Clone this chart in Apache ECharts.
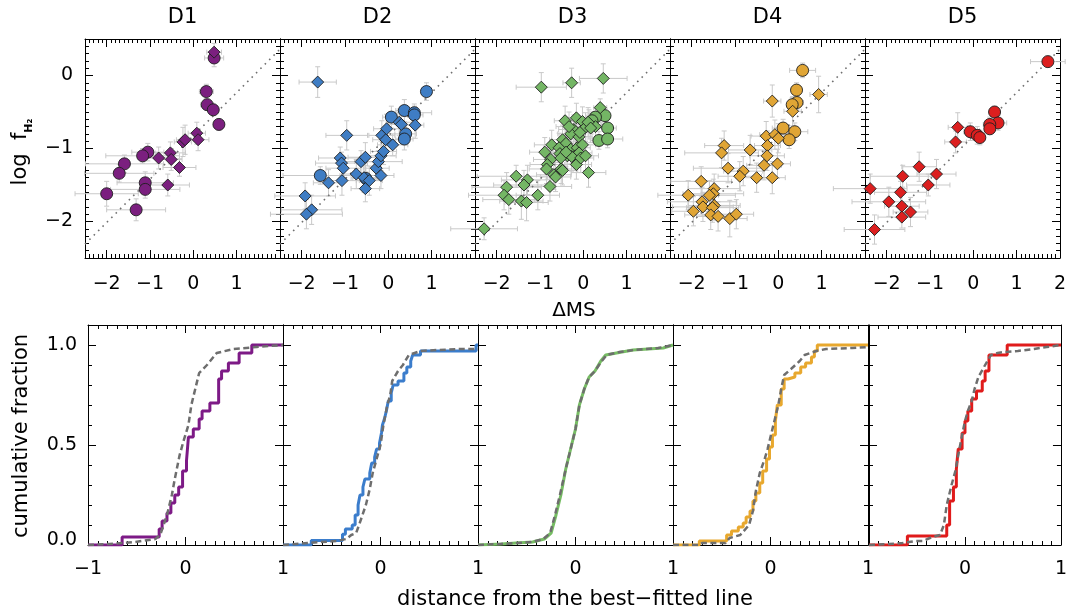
<!DOCTYPE html>
<html><head><meta charset="utf-8">
<script src="https://cdn.jsdelivr.net/npm/echarts@6/dist/echarts.min.js"></script>
<style>html,body{margin:0;padding:0;background:#fff}#c{width:1070px;height:615px}</style>
</head><body><div id="c"></div>
<script>
// ---------------- data ----------------
const panelNames = ['D1','D2','D3','D4','D5'];
const markColors = ['#7b1f7f','#3f7dc4','#74b665','#e0a535','#dc1f1f'];
const lineColors = ['#7d1a86','#3b7dcc','#76bd63','#e8a82e','#e01b1b'];

// best-fit line endpoints
const fitX = [-2.5, 2.0];
const fitY = [-2.31, 0.36];

// D1
const d1X  = [0.48,0.30,0.32,0.46,0.59,-1.05,-1.17,-1.59,-1.71,-1.11,-1.11,-2.00,-1.32, 0.48,-0.24,-0.19,0.08,0.11,-0.80,-0.53,-0.51,-0.32,-0.59];
const d1Y  = [0.24,-0.22,-0.40,-0.47,-0.67,-1.05,-1.10,-1.21,-1.34,-1.47,-1.56,-1.62,-1.84, 0.32,-0.91,-0.88,-0.79,-0.88,-1.13,-1.06,-1.15,-1.26,-1.50];
const d1Xe = [0.22,0.16,0.15,0.10,0.12,0.37,0.85,0.90,0.80,0.65,0.80,0.73,0.68, 0.17,0.20,0.20,0.20,0.25,0.30,0.35,0.25,0.38,0.50];
const d1Ye = [0.12,0.10,0.08,0.08,0.08,0.12,0.10,0.12,0.12,0.15,0.12,0.17,0.15, 0.12,0.20,0.20,0.15,0.15,0.15,0.15,0.15,0.12,0.15];
const d1S  = ['c','c','c','c','c','c','c','c','c','c','c','c','c','d','d','d','d','d','d','d','d','d','d'];

// D2
const d2X  = [-1.63,-0.96,-1.11,-1.08,-1.04,-1.38,-1.07,-1.92,-1.77,-1.89,-0.74,-0.63,-0.53,-0.56,-0.44,-0.53,-0.28,-0.23,-0.17,-0.11,-0.17,-0.15,-0.06,-0.04,0.10,0.25,0.30,0.62, 0.88,0.37,0.07,0.60,0.60,0.40,0.37,-1.57,-0.52];
const d2Y  = [-0.09,-0.82,-1.13,-1.20,-1.27,-1.47,-1.44,-1.65,-1.84,-1.90,-1.35,-1.18,-1.12,-1.40,-1.44,-1.55,-1.27,-1.18,-1.10,-1.04,-1.37,-0.82,-0.88,-0.73,-0.95,-0.64,-0.67,-0.68, -0.22,-0.48,-0.57,-0.51,-0.54,-0.80,-0.87,-1.37,-1.41];
const d2Xe = [0.43,0.48,0.50,0.60,0.40,0.35,0.40,0.70,0.70,0.83,0.30,0.45,0.40,0.30,0.30,0.33,0.30,0.55,0.35,0.30,0.30,0.30,0.30,0.30,0.35,0.30,0.30,0.20, 0.12,0.20,0.20,0.40,0.20,0.25,0.20,0.86,0.30];
const d2Ye = [0.21,0.20,0.15,0.15,0.13,0.18,0.20,0.18,0.20,0.20,0.20,0.15,0.20,0.20,0.20,0.18,0.15,0.15,0.20,0.18,0.18,0.20,0.15,0.20,0.15,0.18,0.20,0.18, 0.12,0.15,0.15,0.12,0.12,0.15,0.15,0.12,0.18];
const d2S  = ['d','d','d','d','d','d','d','d','d','d','d','d','d','d','d','d','d','d','d','d','d','d','d','d','d','d','d','d','c','c','c','c','c','c','c','c','c'];

// D3
const d3X  = [-0.97,-0.27,0.46,0.39,0.50,0.28,0.56,0.36,0.56,-0.42,-0.16,-0.02,0.13,0.05,0.28,-0.22,-0.29,-0.10,-0.48,-0.40,-0.73,-0.56,-0.29,-0.14,-0.02,-0.89,-0.54,-0.37,-0.18,-0.10,-0.75,-0.83,-0.85,-0.52,-0.16,-0.68,-0.64,-0.51,-0.48,0.12,-1.55,-1.29,-1.37,-0.77,-1.77,-1.83,-1.72,-1.43,-1.31,-1.05,-2.29,0.11,0.17,-0.08,-0.27,-0.06,0.05,-0.40,0.20,-0.33];
const d3Y  = [-0.16,-0.10,-0.04,-0.44,-0.55,-0.57,-0.72,-0.89,-0.87,-0.62,-0.58,-0.63,-0.67,-0.71,-0.70,-0.74,-0.80,-0.84,-0.88,-0.93,-0.95,-0.99,-1.01,-0.99,-0.95,-1.05,-1.07,-1.10,-1.10,-1.06,-1.15,-1.22,-1.28,-1.13,-1.22,-1.36,-1.39,-1.28,-1.30,-1.33,-1.38,-1.43,-1.50,-1.52,-1.53,-1.64,-1.70,-1.72,-1.74,-1.64,-2.10,-0.64,-0.72,-0.78,-1.11,-1.13,-1.10,-1.05,-0.62,-0.70];
const d3Xe = [0.58,0.20,0.55,0.15,0.10,0.20,0.20,0.20,0.35,0.25,0.30,0.30,0.30,0.30,0.25,0.35,0.30,0.30,0.30,0.30,0.40,0.35,0.30,0.30,0.30,0.35,0.35,0.30,0.30,0.30,0.40,0.40,0.40,0.35,0.35,0.40,0.35,0.35,0.35,0.40,0.90,0.60,0.70,0.50,0.80,0.82,0.60,0.50,0.50,0.50,0.77,0.30,0.30,0.30,0.30,0.30,0.30,0.30,0.20,0.30];
const d3Ye = [0.20,0.20,0.20,0.12,0.10,0.12,0.12,0.12,0.12,0.20,0.20,0.20,0.20,0.20,0.20,0.20,0.20,0.20,0.20,0.20,0.20,0.20,0.20,0.20,0.20,0.20,0.20,0.20,0.20,0.20,0.20,0.20,0.20,0.20,0.20,0.20,0.20,0.20,0.20,0.20,0.15,0.20,0.20,0.20,0.20,0.20,0.20,0.25,0.25,0.20,0.15,0.20,0.20,0.20,0.20,0.20,0.20,0.20,0.12,0.20];
const d3S  = ['d','d','d','d','c','c','c','c','c','d','d','d','d','d','d','d','d','d','d','d','d','d','d','d','d','d','d','d','d','d','d','d','d','d','d','d','d','d','d','d','d','d','d','d','d','d','d','d','d','d','d','d','d','d','d','d','d','d','c','d'];

// D4
const d4X  = [0.56,0.42,0.43,0.32,0.11,0.38,0.25,0.93,-0.14,0.33,-0.28,-0.08,0.00,-0.25,-1.25,-1.31,-0.65,-0.26,-1.16,-0.33,-0.02,-0.81,-0.89,-0.50,-0.14,-1.78,-1.48,-1.50,-1.59,-2.08,-1.76,-1.74,-1.48,-1.52,-1.96,-1.56,-1.39,-1.12,-0.97];
const d4Y  = [0.07,-0.20,-0.37,-0.40,-0.72,-0.77,-0.88,-0.26,-0.35,-0.49,-0.83,-0.81,-0.86,-0.96,-0.96,-1.06,-1.02,-1.10,-1.27,-1.23,-1.21,-1.31,-1.38,-1.40,-1.40,-1.45,-1.55,-1.62,-1.64,-1.64,-1.73,-1.80,-1.78,-1.81,-1.86,-1.91,-1.93,-1.96,-1.90];
const d4Xe = [0.30,0.12,0.15,0.12,0.25,0.30,0.15,0.20,0.20,0.20,0.35,0.35,0.30,0.30,0.45,0.85,0.50,0.40,0.80,0.40,0.30,0.45,0.50,0.40,0.30,0.70,0.60,0.70,0.60,0.70,0.80,0.70,0.60,0.60,0.50,0.60,0.50,0.40,0.40];
const d4Ye = [0.10,0.10,0.10,0.10,0.12,0.12,0.12,0.25,0.22,0.20,0.20,0.20,0.20,0.20,0.20,0.20,0.20,0.20,0.20,0.20,0.20,0.20,0.20,0.20,0.22,0.20,0.20,0.20,0.20,0.20,0.20,0.20,0.20,0.20,0.20,0.20,0.20,0.25,0.20];
const d4S  = ['c','c','c','c','c','c','c','d','d','d','d','d','d','d','d','d','d','d','d','d','d','d','d','d','d','d','d','d','d','d','d','d','d','d','d','d','d','d','d'];

// D5
const d5X  = [1.72,0.49,0.57,0.38,0.38,-0.07,0.09,0.15,-0.36,-0.41,-1.25,-0.85,-1.63,-1.04,-2.38,-1.68,-1.95,-1.65,-1.45,-1.65,-2.28];
const d5Y  = [0.19,-0.50,-0.65,-0.67,-0.73,-0.77,-0.82,-0.85,-0.71,-0.91,-1.25,-1.35,-1.38,-1.50,-1.55,-1.60,-1.73,-1.79,-1.87,-1.94,-2.11];
const d5Xe = [0.40,0.12,0.20,0.15,0.12,0.15,0.15,0.12,0.22,0.25,0.40,0.45,0.75,0.50,0.85,0.60,0.85,0.40,0.40,0.55,0.70];
const d5Ye = [0.08,0.08,0.10,0.10,0.08,0.12,0.12,0.10,0.20,0.15,0.20,0.20,0.15,0.15,0.20,0.15,0.20,0.15,0.20,0.15,0.20];
const d5S  = ['c','c','c','c','c','c','c','c','d','d','d','d','d','d','d','d','d','d','d','d','d'];

// cumulative distributions: observed (coloured step) and comparison (grey dashed)
const obs1X = [-1,-0.65,-0.27,-0.24,-0.19,-0.15,-0.11,-0.07,-0.03,0.01,0.03,0.08,0.14,0.17,0.25,0.34,0.37,0.44,0.55,0.68,1.0];
const obs1Y = [0,0.04,0.08,0.12,0.16,0.21,0.25,0.29,0.37,0.42,0.54,0.58,0.63,0.67,0.71,0.83,0.87,0.91,0.96,1.0,1.0];
const mod1X = [-1,-0.78,-0.52,-0.31,-0.26,-0.19,-0.14,-0.11,-0.06,-0.02,0.03,0.06,0.10,0.14,0.22,0.32,0.49,0.73,1.0];
const mod1Y = [0,0.005,0.015,0.03,0.05,0.15,0.25,0.33,0.45,0.52,0.60,0.70,0.78,0.86,0.90,0.96,0.98,0.99,1.0];

const obs2X = [-1,-0.71,-0.39,-0.36,-0.29,-0.26,-0.23,-0.21,-0.18,-0.16,-0.11,-0.09,-0.06,-0.04,-0.01,0.01,0.02,0.04,0.06,0.08,0.11,0.13,0.18,0.24,0.27,0.31,0.33,0.41,0.98,1.0];
const obs2Y = [0,0.023,0.054,0.08,0.10,0.15,0.20,0.25,0.29,0.33,0.36,0.41,0.44,0.48,0.51,0.56,0.60,0.63,0.67,0.72,0.76,0.80,0.82,0.86,0.89,0.92,0.95,0.97,1.0,1.0];
const mod2X = [-1,-0.75,-0.45,-0.35,-0.30,-0.25,-0.22,-0.15,-0.11,-0.08,-0.04,0.0,0.03,0.07,0.10,0.12,0.18,0.23,0.29,0.41,0.58,0.82,1.0];
const mod2Y = [0,0.01,0.02,0.03,0.05,0.06,0.10,0.20,0.28,0.36,0.43,0.50,0.60,0.70,0.75,0.82,0.87,0.90,0.95,0.97,0.975,0.98,0.98];

const obs3X = [-1,-0.76,-0.61,-0.44,-0.32,-0.25,-0.20,-0.15,-0.10,-0.04,0.0,0.04,0.09,0.14,0.20,0.26,0.31,0.42,0.59,0.90,1.0];
const obs3Y = [0,0.005,0.01,0.015,0.03,0.06,0.15,0.25,0.38,0.50,0.58,0.70,0.78,0.84,0.87,0.92,0.95,0.96,0.975,0.985,1.0];
const mod3X = [-1,-0.80,-0.60,-0.45,-0.33,-0.26,-0.21,-0.16,-0.10,-0.04,0.0,0.04,0.09,0.14,0.20,0.27,0.32,0.45,0.60,0.85,1.0];
const mod3Y = [0,0.004,0.01,0.015,0.03,0.06,0.15,0.25,0.38,0.50,0.58,0.70,0.78,0.84,0.87,0.92,0.95,0.965,0.975,0.985,1.0];

const obs4X = [-1,-0.73,-0.45,-0.40,-0.33,-0.28,-0.25,-0.21,-0.18,-0.15,-0.11,-0.08,-0.04,-0.01,0.02,0.05,0.07,0.11,0.14,0.18,0.25,0.31,0.36,0.42,0.45,0.48,1.0];
const obs4Y = [0,0.02,0.05,0.07,0.09,0.11,0.14,0.17,0.22,0.26,0.31,0.37,0.43,0.49,0.55,0.62,0.70,0.78,0.83,0.84,0.86,0.89,0.91,0.94,0.97,1.0,1.0];
const mod4X = [-1,-0.73,-0.70,-0.46,-0.42,-0.31,-0.22,-0.18,-0.15,-0.11,-0.06,-0.03,0.01,0.04,0.08,0.11,0.14,0.21,0.30,0.35,0.47,0.57,0.84,1.0];
const mod4Y = [0,0.0,0.01,0.01,0.035,0.05,0.10,0.17,0.27,0.36,0.43,0.48,0.56,0.62,0.70,0.78,0.85,0.88,0.92,0.95,0.97,0.98,0.985,0.99];

const obs5X = [-1,-0.60,-0.19,-0.16,-0.12,-0.09,-0.07,-0.03,0.0,0.03,0.07,0.12,0.18,0.21,0.25,0.44,1.0];
const obs5Y = [0,0.045,0.10,0.22,0.29,0.38,0.48,0.56,0.62,0.67,0.73,0.77,0.82,0.87,0.95,1.0,1.0];
const mod5X = [-1,-0.79,-0.65,-0.51,-0.44,-0.34,-0.26,-0.22,-0.19,-0.14,-0.10,-0.07,-0.03,0.0,0.03,0.07,0.10,0.14,0.21,0.27,0.34,0.41,0.55,0.72,0.85,1.0];
const mod5Y = [0,0.005,0.01,0.02,0.02,0.04,0.05,0.10,0.20,0.30,0.37,0.45,0.55,0.62,0.67,0.72,0.78,0.84,0.90,0.95,0.96,0.965,0.97,0.98,0.99,1.0];

// tick labels
const topXLabels = [[-2,-1,0,1],[-2,-1,0,1],[-2,-1,0,1],[-2,-1,0,1],[-2,-1,0,1,2]];
const topYLabels = [-2,-1,0];
const botXLabels = [[-1,0,1],[0,1],[0,1],[0,1],[0,1]];
const botYLabels = [0,0.5,1.0];

// ---------------- build ----------------
const scat = [[d1X,d1Y,d1Xe,d1Ye,d1S],[d2X,d2Y,d2Xe,d2Ye,d2S],[d3X,d3Y,d3Xe,d3Ye,d3S],[d4X,d4Y,d4Xe,d4Ye,d4S],[d5X,d5Y,d5Xe,d5Ye,d5S]];
const cdfs = [[obs1X,obs1Y,mod1X,mod1Y],[obs2X,obs2Y,mod2X,mod2Y],[obs3X,obs3Y,mod3X,mod3Y],[obs4X,obs4Y,mod4X,mod4Y],[obs5X,obs5Y,mod5X,mod5Y]];
const stepObs = ['end','end',false,'end','end'];

const FONT = 'DejaVu Sans';
const topLeft = [85,280,475,670,865];
const botLeft = [88,283,478,673,869];
const PW = 195;

function steps(a, b, s) { const r = []; const n = Math.round((b - a) / s); for (let i = 0; i <= n; i++) r.push(+(a + i * s).toFixed(3)); return r; }
const minusFmt = v => (v < 0 ? '\u2212' : '') + Math.abs(v);
const fracFmt = v => v === 0 ? '{z|0.0}' : v.toFixed(1);

const option = { animation: false, backgroundColor: '#fff', grid: [], xAxis: [], yAxis: [], series: [], graphic: [] };

function axisDef(gi, pos, range, ticks, len, showLine, labels, fmt, margin) {
  return {
    type: 'value', gridIndex: gi, position: pos, min: range[0], max: range[1],
    splitLine: { show: false }, axisPointer: { show: false }, silent: true,
    axisLine: { show: showLine, onZero: false, lineStyle: { color: '#000', width: 1 } },
    axisTick: { show: true, inside: true, length: len, customValues: ticks, lineStyle: { color: '#000', width: 1 } },
    axisLabel: (labels && labels.length) ? {
      show: true, customValues: labels, formatter: fmt, margin: margin, color: '#000',
      fontFamily: FONT, fontSize: 19,
      rich: { z: { fontFamily: FONT, fontSize: 19, color: '#000', padding: [0, 0, 10, 0] } }
    } : { show: false }
  };
}

function addPanel(left, top, h, xr, yr, xMaj, xMin, yMaj, yMin, xLab, yLab, xFmt, yFmt, xMargin, yMargin) {
  const gi = option.grid.length;
  option.grid.push({ left: left, top: top, width: PW, height: h });
  const xi = option.xAxis.length, yi = option.yAxis.length;
  option.xAxis.push(axisDef(gi, 'bottom', xr, xMaj, 8, true, xLab, xFmt, xMargin));
  option.xAxis.push(axisDef(gi, 'bottom', xr, xMin, 4, false));
  option.xAxis.push(axisDef(gi, 'top', xr, xMaj, 8, true));
  option.xAxis.push(axisDef(gi, 'top', xr, xMin, 4, false));
  option.yAxis.push(axisDef(gi, 'left', yr, yMaj, 8, true, yLab, yFmt, yMargin));
  option.yAxis.push(axisDef(gi, 'left', yr, yMin, 4, false));
  option.yAxis.push(axisDef(gi, 'right', yr, yMaj, 8, true));
  option.yAxis.push(axisDef(gi, 'right', yr, yMin, 4, false));
  return { xi, yi };
}

function renderErr(params, api) {
  const x = api.value(0), y = api.value(1), xe = api.value(2), ye = api.value(3);
  const a = api.coord([x - xe, y]), b = api.coord([x + xe, y]);
  const c = api.coord([x, y - ye]), d = api.coord([x, y + ye]);
  const k = 2.5;
  const st = { stroke: '#c9c9c9', lineWidth: 1 };
  const L = (x1, y1, x2, y2) => ({ type: 'line', shape: { x1, y1, x2, y2 }, style: st });
  return { type: 'group', children: [
    L(a[0], a[1], b[0], b[1]), L(a[0], a[1] - k, a[0], a[1] + k), L(b[0], b[1] - k, b[0], b[1] + k),
    L(c[0], c[1], d[0], d[1]), L(c[0] - k, c[1], c[0] + k, c[1]), L(d[0] - k, d[1], d[0] + k, d[1])
  ] };
}

const topXMin = steps(-2.5, 2.0, 0.1), topYMin = steps(-2.5, 0.5, 0.1);
const botXMin = steps(-1, 1, 0.1), botYMin = steps(0, 1.1, 0.1);

for (let p = 0; p < 5; p++) {
  // top panel
  const t = addPanel(topLeft[p], 39, 219, [-2.5, 2.0], [-2.5, 0.5],
    [-2, -1, 0, 1, 2], topXMin, [-2, -1, 0], topYMin,
    topXLabels[p], p === 0 ? topYLabels : [], minusFmt, minusFmt, 17, 12);
  const [X, Y, XE, YE, S] = scat[p];
  option.series.push({
    type: 'custom', xAxisIndex: t.xi, yAxisIndex: t.yi, renderItem: renderErr, clip: false, silent: true, z: 1,
    encode: { x: 0, y: 1 },
    data: X.map((v, i) => [v, Y[i], XE[i], YE[i]])
  });
  option.series.push({
    type: 'line', xAxisIndex: t.xi, yAxisIndex: t.yi, symbol: 'none', silent: true, z: 2,
    lineStyle: { color: '#707070', width: 1.6, type: [1.6, 4.6] },
    data: fitX.map((v, i) => [v, fitY[i]])
  });
  ['c', 'd'].forEach(kind => {
    option.series.push({
      type: 'scatter', xAxisIndex: t.xi, yAxisIndex: t.yi, silent: true, z: 3,
      symbol: kind === 'c' ? 'circle' : 'diamond', symbolSize: kind === 'c' ? 12 : 12,
      itemStyle: { color: markColors[p], borderColor: '#1e1e1e', borderWidth: 0.9, opacity: 1 },
      data: X.map((v, i) => [v, Y[i], S[i]]).filter(r => r[2] === kind).map(r => [r[0], r[1]])
    });
  });

  // bottom panel
  const b = addPanel(botLeft[p], 325, 220, [-1, 1], [0, 1.1],
    [-1, 0, 1], botXMin, [0, 0.5, 1], botYMin,
    botXLabels[p], p === 0 ? botYLabels : [], minusFmt, fracFmt, 15, 11);
  const [oX, oY, mX, mY] = cdfs[p];
  option.series.push({
    type: 'line', xAxisIndex: b.xi, yAxisIndex: b.yi, symbol: 'none', silent: true, z: 2,
    step: stepObs[p], lineStyle: { color: lineColors[p], width: 3 },
    data: oX.map((v, i) => [v, oY[i]])
  });
  option.series.push({
    type: 'line', xAxisIndex: b.xi, yAxisIndex: b.yi, symbol: 'none', silent: true, z: 3,
    lineStyle: { color: '#6e6e6e', width: 2.5, type: [6, 3.5] },
    data: mX.map((v, i) => [v, mY[i]])
  });

  option.graphic.push({ type: 'text', x: topLeft[p] + PW / 2, y: 18, silent: true,
    style: { text: panelNames[p], font: '21px "DejaVu Sans"', fill: '#000', align: 'center', verticalAlign: 'middle' } });
}

option.graphic.push({ type: 'text', x: 574, y: 311, silent: true,
  style: { text: '\u0394MS', font: '20px "DejaVu Sans"', fill: '#000', align: 'center', verticalAlign: 'middle' } });
option.graphic.push({ type: 'text', x: 575, y: 600, silent: true,
  style: { text: 'distance from the best\u2212fitted line', font: '21px "DejaVu Sans"', fill: '#000', align: 'center', verticalAlign: 'middle' } });
option.graphic.push({ type: 'text', x: 22, y: 436, rotation: Math.PI / 2, silent: true,
  style: { text: 'cumulative fraction', font: '21px "DejaVu Sans"', fill: '#000', align: 'center', verticalAlign: 'middle' } });
option.graphic.push({ type: 'text', x: 21, y: 152, rotation: Math.PI / 2, silent: true,
  style: { text: '{a|log  f}{b|H\u2082}', fill: '#000', align: 'center', verticalAlign: 'middle',
    rich: { a: { fontFamily: FONT, fontSize: 21, lineHeight: 28, verticalAlign: 'middle' },
            b: { fontFamily: FONT, fontSize: 11, fontWeight: 'bold', lineHeight: 28, verticalAlign: 'bottom' } } } });

const chart = echarts.init(document.getElementById('c'), null, { renderer: 'canvas' });
chart.setOption(option);
</script>
</body></html>
